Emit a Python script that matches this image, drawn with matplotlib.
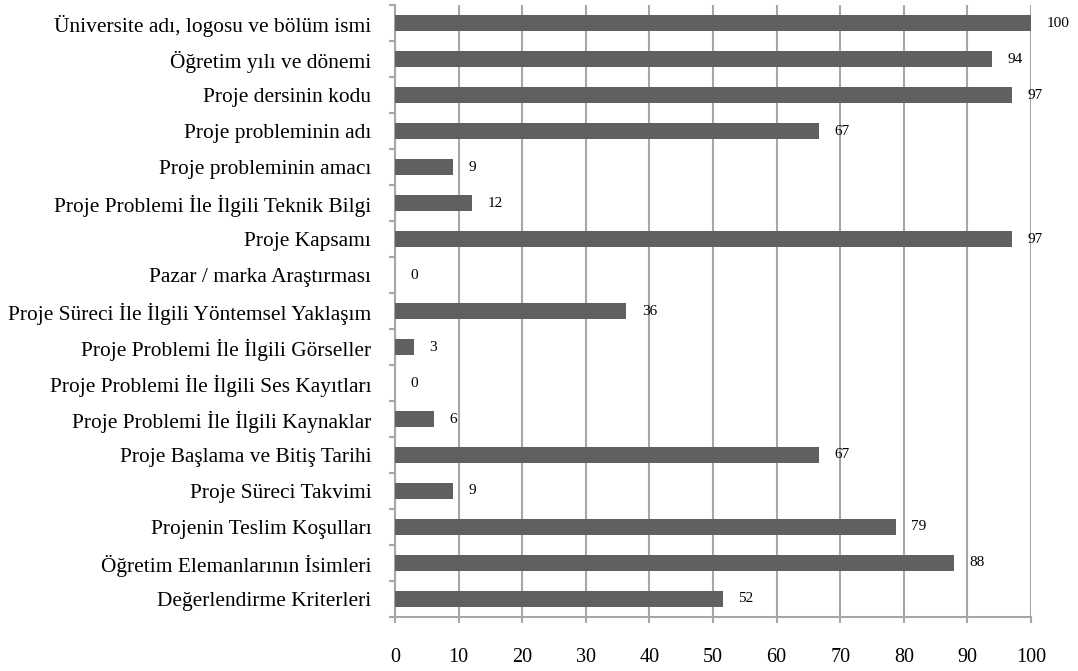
import numpy as np
import matplotlib
matplotlib.use("Agg")
import matplotlib.pyplot as plt

categories = [
    "Üniversite adı, logosu ve bölüm ismi",
    "Öğretim yılı ve dönemi",
    "Proje dersinin kodu",
    "Proje probleminin adı",
    "Proje probleminin amacı",
    "Proje Problemi İle İlgili Teknik Bilgi",
    "Proje Kapsamı",
    "Pazar / marka Araştırması",
    "Proje Süreci İle İlgili Yöntemsel Yaklaşım",
    "Proje Problemi İle İlgili Görseller",
    "Proje Problemi İle İlgili Ses Kayıtları",
    "Proje Problemi İle İlgili Kaynaklar",
    "Proje Başlama ve Bitiş Tarihi",
    "Proje Süreci Takvimi",
    "Projenin Teslim Koşulları",
    "Öğretim Elemanlarının İsimleri",
    "Değerlendirme Kriterleri",
]
values = [100, 93.9, 97.0, 66.7, 9.1, 12.1, 97.0, 0, 36.4, 3.0, 0, 6.1, 66.7, 9.1, 78.8, 87.9, 51.5]
labels = ["100", "94", "97", "67", "9", "12", "97", "0", "36", "3", "0", "6", "67", "9", "79", "88", "52"]
xticks = [0, 10, 20, 30, 40, 50, 60, 70, 80, 90, 100]

plt.rcParams['font.family'] = ['Liberation Serif', 'DejaVu Serif']

grid_col = '#a6a6a6'
bar_col = '#606060'

fig = plt.figure(figsize=(10.78, 6.71), dpi=100)
ax = fig.add_axes([0.3664, 0.0805, 0.59, 0.912])

n = len(categories)
y = np.arange(n)
ax.barh(y, values, height=0.42, color=bar_col, zorder=3)
for yi, v, lab in zip(y, values, labels):
    ax.annotate(lab, (v, yi), xytext=(11, 0), textcoords='offset points',
                ha='left', va='center', fontsize=11, zorder=4)

ax.set_xlim(0, 100)
ax.set_ylim(n - 0.5, -0.5)
ax.set_xticks(xticks)
ax.set_xticklabels([str(t) for t in xticks], fontsize=14.5)
ax.set_yticks(y)
ax.set_yticklabels(categories, fontsize=15.4)
ax.set_yticks(np.arange(-0.5, n, 1), minor=True)

ax.tick_params(axis='y', which='major', length=0, pad=17)
ax.tick_params(axis='y', which='minor', length=4, width=1.5, color=grid_col, direction='out')
ax.tick_params(axis='x', which='major', length=4.5, width=1.5, color=grid_col, pad=18)

ax.grid(axis='x', color=grid_col, linewidth=1.5, zorder=0)
ax.set_axisbelow(True)
for side in ['top', 'right']:
    ax.spines[side].set_visible(False)
for side in ['left', 'bottom']:
    ax.spines[side].set_color(grid_col)
    ax.spines[side].set_linewidth(1.5)

fig.savefig("out.png", dpi=100)
